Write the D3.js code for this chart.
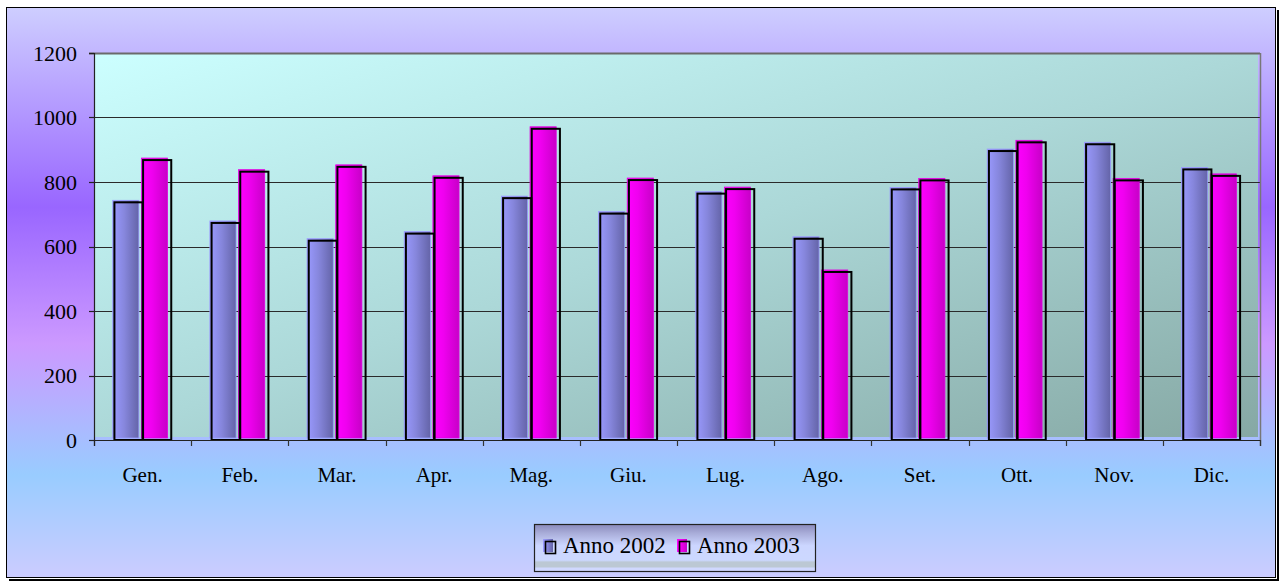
<!DOCTYPE html>
<html>
<head>
<meta charset="utf-8">
<script src="https://cdn.jsdelivr.net/npm/d3@7"></script>
<style>
  html, body { margin: 0; padding: 0; background: #ffffff; }
  svg { display: block; }
  text { font-family: "Liberation Serif", "Times New Roman", serif; fill: #000; }
</style>
</head>
<body>
<svg id="chart" width="1282" height="583"></svg>
<script>
const categories = ["Gen.", "Feb.", "Mar.", "Apr.", "Mag.", "Giu.", "Lug.", "Ago.", "Set.", "Ott.", "Nov.", "Dic."];
const seriesNames = ["Anno 2002", "Anno 2003"];
const anno2002 = [737, 673, 618, 640, 750, 702, 764, 624, 777, 896, 917, 839];
const anno2003 = [868, 832, 847, 813, 965, 806, 778, 521, 805, 923, 805, 819];
const yTicks = [0, 200, 400, 600, 800, 1000, 1200];

(function () {
const seriesValues = [anno2002, anno2003];
const data = categories.map((c, i) => ({ cat: c, vals: seriesNames.map((s, j) => ({ s, v: seriesValues[j][i] })) }));

const svg = d3.select("#chart");
const defs = svg.append("defs");

// chart background gradient
const bg = defs.append("linearGradient").attr("id", "bgGrad").attr("x1", 0).attr("y1", 0).attr("x2", 0).attr("y2", 1);
[[0, "#ceceff"], [0.35, "#9966ff"], [0.59, "#cc99ff"], [0.82, "#99ccff"], [1, "#ccccff"]]
  .forEach(([o, c]) => bg.append("stop").attr("offset", o).attr("stop-color", c));

// plot area gradient
const pg = defs.append("linearGradient").attr("id", "plotGrad").attr("x1", 0).attr("y1", 0).attr("x2", 1).attr("y2", 1);
[[0, "#ccffff"], [0.5, "#acd8d8"], [1, "#86a8a4"]]
  .forEach(([o, c]) => pg.append("stop").attr("offset", o).attr("stop-color", c));

// bar gradients
const gBlue = defs.append("linearGradient").attr("id", "gBlue").attr("x1", 0).attr("y1", 0).attr("x2", 1).attr("y2", 0);
[[0, "#9a9aff"], [0.45, "#8686dc"], [1, "#6464a8"]].forEach(([o, c]) => gBlue.append("stop").attr("offset", o).attr("stop-color", c));
const gMag = defs.append("linearGradient").attr("id", "gMag").attr("x1", 0).attr("y1", 0).attr("x2", 1).attr("y2", 0);
[[0, "#ff00ff"], [0.4, "#f000f0"], [1, "#c800c8"]].forEach(([o, c]) => gMag.append("stop").attr("offset", o).attr("stop-color", c));
const fills = { "Anno 2002": "url(#gBlue)", "Anno 2003": "url(#gMag)" };
const edge = { "Anno 2002": "#9a9aff", "Anno 2003": "#e000e0" };

// legend gradient
const lg = defs.append("linearGradient").attr("id", "legGrad").attr("x1", 0).attr("y1", 0).attr("x2", 0).attr("y2", 1);
[[0, "#8a8abc"], [0.18, "#a8acd8"], [0.45, "#ccd6ff"], [0.76, "#ccd8ff"], [0.8, "#bcc8d4"], [0.9, "#bcc8d4"], [0.93, "#d0d8ff"], [1, "#d0d8ff"]]
  .forEach(([o, c]) => lg.append("stop").attr("offset", o).attr("stop-color", c));

// outer frame + shadow
svg.append("rect").attr("x", 9).attr("y", 10).attr("width", 1270).attr("height", 571).attr("fill", "#000");
svg.append("rect").attr("x", 6.5).attr("y", 7.5).attr("width", 1269).attr("height", 570)
  .attr("fill", "url(#bgGrad)").attr("stroke", "#000").attr("stroke-width", 1);
svg.append("line").attr("x1", 7).attr("x2", 1276).attr("y1", 578.5).attr("y2", 578.5).attr("stroke", "#fff").attr("stroke-width", 1);
svg.append("line").attr("x1", 1276.5).attr("x2", 1276.5).attr("y1", 8).attr("y2", 579).attr("stroke", "#fff").attr("stroke-width", 1);

// scales
const pLeft = 94, pRight = 1260, pTop = 53, pBottom = 440;
const x = d3.scaleBand().domain(categories).range([pLeft, pRight]).padding(0);
const bw = x.bandwidth();
const x1 = d3.scaleBand().domain(seriesNames).range([bw * 0.205, bw * 0.795]).padding(0);
const y = d3.scaleLinear().domain([0, 1200]).range([pBottom, pTop]);

// plot area
svg.append("rect").attr("x", pLeft).attr("y", pTop).attr("width", pRight - pLeft - 2).attr("height", pBottom - pTop - 3)
  .attr("fill", "url(#plotGrad)");
svg.append("line").attr("x1", pLeft + 1).attr("x2", pRight).attr("y1", pTop + 0.5).attr("y2", pTop + 0.5)
  .attr("stroke", "#c8ffff").attr("stroke-width", 1);

// gridlines
svg.append("g").selectAll("line").data(yTicks.filter(t => t > 0)).join("line")
  .attr("x1", pLeft - 5).attr("x2", pRight)
  .attr("y1", d => Math.round(y(d)) + 0.5).attr("y2", d => Math.round(y(d)) + 0.5)
  .attr("stroke", d => d === 1200 ? "#6a6a6a" : "#2a2a2a").attr("stroke-width", d => d === 1200 ? 2 : 1.2);

// right border of plot
svg.append("line").attr("x1", pRight + 0.5).attr("x2", pRight + 0.5).attr("y1", pTop).attr("y2", pBottom + 6)
  .attr("stroke", "#777").attr("stroke-width", 1.5);

// bars
const gCat = svg.append("g").selectAll("g").data(data).join("g")
  .attr("transform", d => `translate(${x(d.cat)},0)`);
const w = x1.bandwidth();
gCat.selectAll("rect.fill").data(d => d.vals).join("rect").attr("class", "fill")
  .attr("x", d => x1(d.s) - 1.2)
  .attr("y", d => y(d.v) - 2)
  .attr("width", w - 2.5)
  .attr("height", d => pBottom - 2 - (y(d.v) - 2))
  .attr("fill", d => fills[d.s])
  .attr("stroke", d => edge[d.s]).attr("stroke-width", 0.8);
gCat.selectAll("rect.out").data(d => d.vals).join("rect").attr("class", "out")
  .attr("x", d => x1(d.s) + 0.5)
  .attr("y", d => y(d.v))
  .attr("width", w - 0.5)
  .attr("height", d => pBottom - y(d.v))
  .attr("fill", "none").attr("stroke", "#000").attr("stroke-width", 2);

// x axis
const xAxisG = svg.append("g");
xAxisG.append("line").attr("x1", pLeft - 5).attr("x2", pRight).attr("y1", pBottom + 0.5).attr("y2", pBottom + 0.5)
  .attr("stroke", "#222").attr("stroke-width", 1.2);
const boundaries = categories.map(c => x(c)).concat([pRight]);
xAxisG.selectAll("line.tk").data(boundaries).join("line").attr("class", "tk")
  .attr("x1", d => Math.round(d) + 0.5).attr("x2", d => Math.round(d) + 0.5)
  .attr("y1", pBottom).attr("y2", pBottom + 6)
  .attr("stroke", "#333").attr("stroke-width", 1.2);
xAxisG.selectAll("text").data(categories).join("text")
  .attr("x", d => x(d) + bw / 2).attr("y", 482)
  .attr("text-anchor", "middle").attr("font-size", 21).text(d => d);

// y axis
const yAxisG = svg.append("g");
yAxisG.append("line").attr("x1", pLeft + 0.5).attr("x2", pLeft + 0.5).attr("y1", pTop).attr("y2", pBottom + 6)
  .attr("stroke", "#222").attr("stroke-width", 1.2);
yAxisG.selectAll("line.tk").data(yTicks).join("line").attr("class", "tk")
  .attr("x1", pLeft - 5).attr("x2", pLeft)
  .attr("y1", d => Math.round(y(d)) + 0.5).attr("y2", d => Math.round(y(d)) + 0.5)
  .attr("stroke", "#222").attr("stroke-width", 1.2);
yAxisG.selectAll("text").data(yTicks).join("text")
  .attr("x", 77).attr("y", d => y(d) + 7.5)
  .attr("text-anchor", "end").attr("font-size", 22).text(d => d);

// legend
const leg = svg.append("g");
leg.append("rect").attr("x", 534.5).attr("y", 524.5).attr("width", 281).attr("height", 47)
  .attr("fill", "url(#legGrad)").attr("stroke", "#222").attr("stroke-width", 1.2);
const legX = { "Anno 2002": 543, "Anno 2003": 677 };
seriesNames.forEach(s => {
  const lx = legX[s];
  leg.append("rect").attr("x", lx).attr("y", 539).attr("width", 10).attr("height", 13)
    .attr("fill", fills[s]);
  leg.append("rect").attr("x", lx + 2.5).attr("y", 541.5).attr("width", 10).attr("height", 12)
    .attr("fill", "none").attr("stroke", "#000").attr("stroke-width", 1.6);
  leg.append("text").attr("x", lx + 20).attr("y", 553).attr("font-size", 23).text(s);
});
})();
</script>
</body>
</html>
